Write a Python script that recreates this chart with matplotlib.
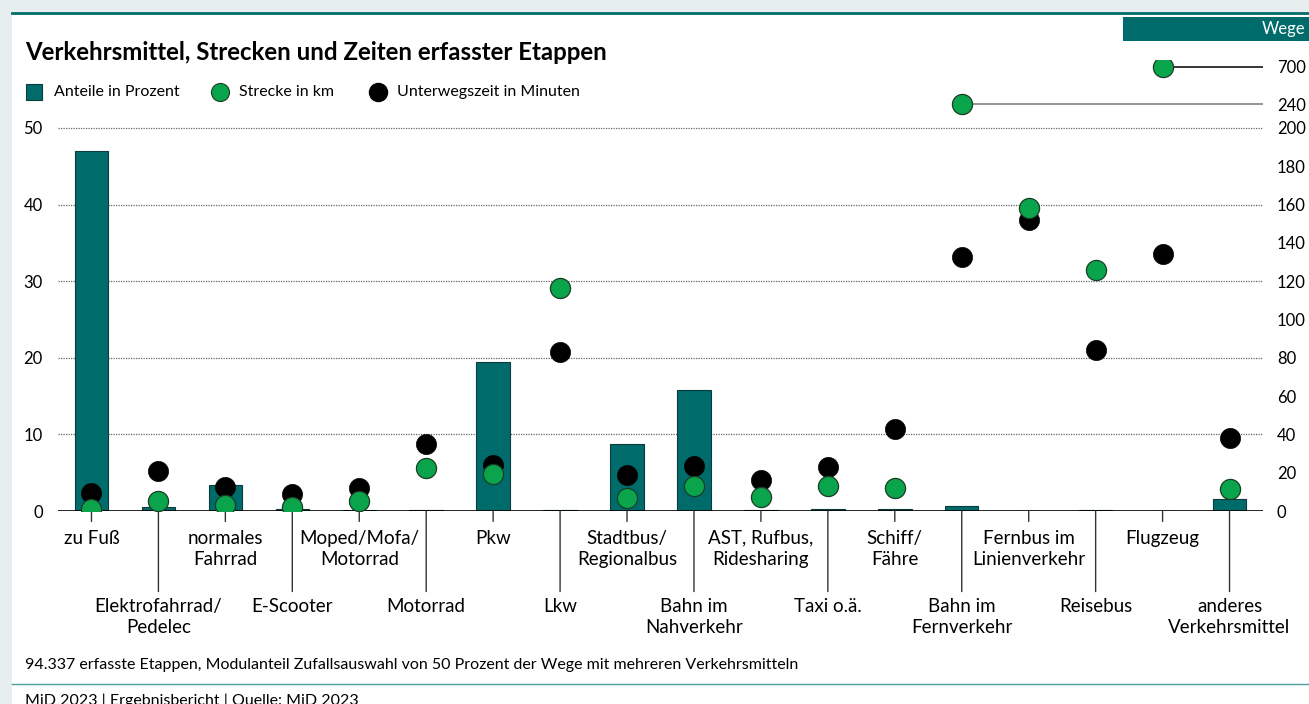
import numpy as np
import matplotlib
matplotlib.use("Agg")
import matplotlib.pyplot as plt
from matplotlib.lines import Line2D
from matplotlib.patches import Rectangle

plt.rcParams['font.family'] = ['Lato', 'DejaVu Sans']

# Daten
categories = [
    "zu Fuß", "Elektrofahrrad/\nPedelec", "normales\nFahrrad", "E-Scooter",
    "Moped/Mofa/\nMotorrad", "Motorrad", "Pkw", "Lkw", "Stadtbus/\nRegionalbus",
    "Bahn im\nNahverkehr", "AST, Rufbus,\nRidesharing", "Taxi o.ä.", "Schiff/\nFähre",
    "Bahn im\nFernverkehr", "Fernbus im\nLinienverkehr", "Reisebus", "Flugzeug",
    "anderes\nVerkehrsmittel",
]
anteile = [47.0, 0.5, 3.4, 0.3, 0.1, 0.1, 19.4, 0.1, 8.8, 15.8, 0.1, 0.2, 0.2, 0.7, 0.05, 0.1, 0.05, 1.6]
strecke = [1, 5, 3, 2, 5, 22.5, 19.5, 116.5, 7, 13, 7.5, 13, 12, 240, 158, 126, 700, 11.5]
zeit = [9.5, 21, 12.5, 9, 12, 35, 24, 83, 19, 23.5, 16, 23, 43, 132.5, 152, 84, 134, 38]

right_ticks = [0, 20, 40, 60, 80, 100, 120, 140, 160, 180, 200, 240, 700]
left_ticks = [0, 10, 20, 30, 40, 50]

TEAL = "#006b6b"
GREEN = "#0aa44c"
BG = "#e6eef0"

W, H = 1309, 704
fig = plt.figure(figsize=(W / 100, H / 100), dpi=100, facecolor="white")


def fx(px):
    return px / W


def fy(py):
    return 1 - py / H


# Rahmen
fig.add_artist(Rectangle((0, 0), fx(12), 1, transform=fig.transFigure, color=BG, lw=0))
fig.add_artist(Rectangle((0, fy(12)), 1, 1 - fy(12), transform=fig.transFigure, color=BG, lw=0))
fig.add_artist(Line2D([fx(12), 1], [fy(12.5), fy(12.5)], transform=fig.transFigure, color=TEAL, lw=2))
fig.add_artist(Line2D([fx(12), 1], [fy(684), fy(684)], transform=fig.transFigure, color="#4f9c9c", lw=1))
fig.add_artist(Rectangle((fx(1123), fy(41)), fx(W - 1123), fy(17) - fy(41),
                         transform=fig.transFigure, color=TEAL, lw=0))
fig.text(fx(1305), fy(29), "Wege", color="white", fontsize=12, ha="right", va="center")

fig.text(fx(25), fy(53), "Verkehrsmittel, Strecken und Zeiten erfasster Etappen",
         fontsize=17.3, fontweight="bold", va="center")

# Legende
leg_y = fy(92)
fig.add_artist(Line2D([fx(34)], [leg_y], transform=fig.transFigure, marker="s", ms=11,
                      mfc=TEAL, mec="#0d3b3b", mew=0.8, ls=""))
fig.text(fx(54), leg_y, "Anteile in Prozent", fontsize=11.5, va="center")
fig.add_artist(Line2D([fx(220)], [leg_y], transform=fig.transFigure, marker="o", ms=13,
                      mfc=GREEN, mec="#1b3d25", mew=0.8, ls=""))
fig.text(fx(239), leg_y, "Strecke in km", fontsize=11.5, va="center")
fig.add_artist(Line2D([fx(378)], [leg_y], transform=fig.transFigure, marker="o", ms=13,
                      mfc="black", mec="black", ls=""))
fig.text(fx(397), leg_y, "Unterwegszeit in Minuten", fontsize=11.5, va="center")

fig.text(fx(25), fy(665), "94.337 erfasste Etappen, Modulanteil Zufallsauswahl von 50 Prozent "
         "der Wege mit mehreren Verkehrsmitteln", fontsize=11.5, va="center")
fig.text(fx(25), fy(701), "MiD 2023 | Ergebnisbericht | Quelle: MiD 2023", fontsize=11.5, va="center")

# Achsen
y_top_px = 60
ax = fig.add_axes([fx(58), fy(511), fx(1263 - 58), fy(y_top_px) - fy(511)])
ax.set_facecolor("none")
ax2 = ax.twinx()

# gebrochene rechte Achse: 0-200 linear, darüber gestaucht
src = np.array([0, 200, 240, 700, 1000])
dst = np.array([0, 200, 212.5, 231.9, 244.5])


def fwd(v):
    return np.interp(v, src, dst)


def inv(v):
    return np.interp(v, dst, src)


ax2.set_yscale("function", functions=(fwd, inv))
scaled_top = (511 - y_top_px) / 1.915
ax2.set_ylim(0, inv(scaled_top))
ax.set_ylim(0, scaled_top / 4)

n = len(categories)
x = np.arange(n)
ax.set_xlim(-0.5, n - 0.5)

for t in left_ticks[1:]:
    ax.axhline(t, color="#666666", lw=0.9, ls=(0, (1, 1)), zorder=1)
ax.axhline(0, color="black", lw=1.2, zorder=3)

ax.bar(x, anteile, width=0.5, color=TEAL, edgecolor="#0d3b3b", lw=0.8, zorder=2)

# Linien zu den Ausreißern
for i, v in enumerate(strecke):
    if v > 200:
        ax2.plot([i, n - 0.5], [v, v], color="black" if v > 240 else "#777777",
                 lw=1.1, zorder=1)

ax2.scatter(x, zeit, s=210, color="black", edgecolor="black", lw=0.5, zorder=3)
ax2.scatter(x, strecke, s=210, color=GREEN, edgecolor="#1b3d25", lw=0.9, zorder=4)

ax.set_yticks(left_ticks)
ax.set_yticklabels([str(t) for t in left_ticks])
ax.tick_params(axis="y", length=0, pad=11, labelsize=12)
ax2.set_yticks(right_ticks)
ax2.set_yticklabels([str(t) for t in right_ticks])
ax2.tick_params(axis="y", length=0, pad=10, labelsize=12)
ax.set_xticks([])

for a in (ax, ax2):
    for s in a.spines.values():
        s.set_visible(False)

# Kategorienbeschriftung in zwei Reihen
for i, lab in enumerate(categories):
    if i % 2 == 0:
        tick_len, text_off = 7.5, 13.5
    else:
        tick_len, text_off = 58, 62.5
    ax.annotate("", xy=(i, 0), xytext=(0, -tick_len), textcoords="offset points",
                arrowprops=dict(arrowstyle="-", color="#333333", lw=1, shrinkA=0, shrinkB=0),
                annotation_clip=False)
    ax.annotate(lab, xy=(i, 0), xytext=(0, -text_off), textcoords="offset points",
                ha="center", va="top", fontsize=13.5, linespacing=1.32,
                annotation_clip=False)

fig.savefig("out.png", dpi=100, facecolor="white")
